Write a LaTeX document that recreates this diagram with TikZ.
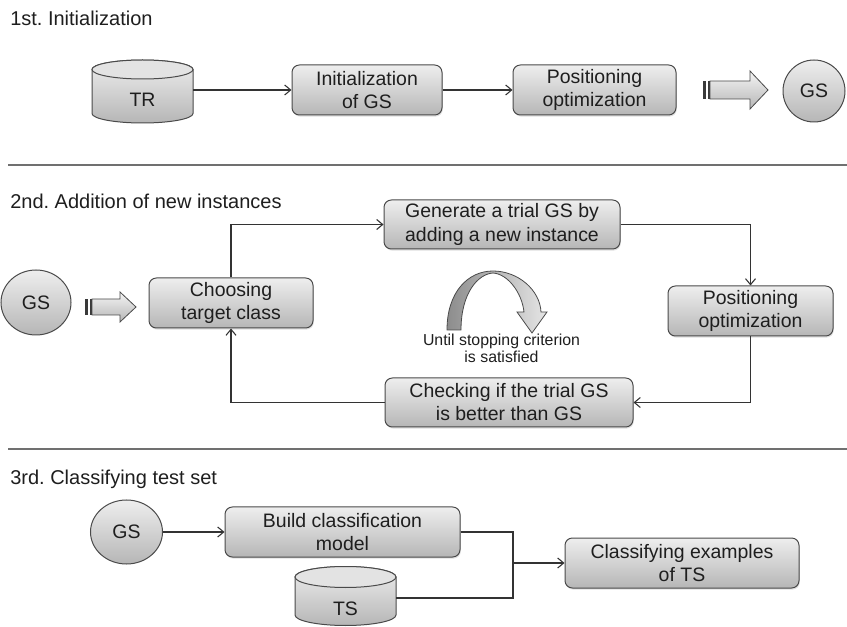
\documentclass[tikz,border=0pt]{standalone}
\usepackage{fontspec}
\setmainfont{Liberation Sans}
\usetikzlibrary{arrows.meta,shapes.geometric,shadows}
\frenchspacing
\definecolor{boxtop}{HTML}{EEEEEE}
\definecolor{boxbot}{HTML}{B6B6B6}
\definecolor{edgec}{HTML}{4A4A4A}
\definecolor{txtc}{HTML}{1E1E1E}
\definecolor{wirec}{HTML}{333333}
\definecolor{sepc}{HTML}{707070}
\definecolor{stripec}{HTML}{3A3A3A}
\newcommand\pxu{0.75pt}
\newcommand\mainsize{\fontsize{14.6}{17.3}\selectfont}
\newcommand\titlesize{\fontsize{15}{18}\selectfont}
\newcommand\smallsize{\fontsize{11.9}{13}\selectfont}
\tikzset{
  shadethree/.style={top color=boxtop, bottom color=boxbot},
  box/.style={draw=edgec, line width=0.75pt, rounded corners=5.5pt, shadethree,
    drop shadow={shadow xshift=0.6pt, shadow yshift=-1.2pt, opacity=0.25},
    align=center, font=\mainsize, text=txtc, inner sep=0pt},
  gsnode/.style={ellipse, draw=edgec, line width=0.75pt, shadethree,
    font=\mainsize, text=txtc, inner sep=0pt},
  cylbody/.style={draw=edgec, line width=0.75pt, top color=boxtop, bottom color=boxbot},
  cyltop/.style={draw=edgec, line width=0.75pt, fill=boxtop!80!boxbot},
  cylanchor/.style={inner sep=0pt, draw=none},
  label/.style={font=\mainsize, text=txtc, inner sep=0pt},
  title/.style={font=\titlesize, text=txtc, inner sep=0pt, anchor=base west},
  smalltext/.style={font=\smallsize, text=txtc, inner sep=0pt, align=center},
  wire/.style={draw=wirec, line width=0.8pt},
  arrowwire/.style={wire, -{Straight Barb[length=4.5pt,width=7.5pt]}},
  sepline/.style={draw=sepc, line width=1pt},
  blockarrow/.style={draw=edgec, line width=0.6pt, top color=boxtop!60!white, bottom color=boxbot},
  stripe/.style={draw=none, fill=stripec},
  curvedarrow/.style={draw=edgec, line width=0.6pt, left color=black!45, right color=black!10}
}
\begin{document}
\begin{tikzpicture}[x=0.75pt,y=-0.75pt]
\useasboundingbox (0,0) rectangle (847,627);

% ---------- Section 1 ----------
\node[title] (t1) at (10,26) {1st. Initialization};

% TR cylinder
\draw[cylbody] (92,69.5) -- (92,113.5)
  arc[start angle=180,end angle=360,x radius=37.875pt,y radius=7.125pt]
  -- (193,69.5)
  arc[start angle=0,end angle=180,x radius=37.875pt,y radius=7.125pt] -- cycle;
\draw[cyltop] (142.5,69.5) ellipse [x radius=37.875pt, y radius=7.125pt];
\node[cylanchor, minimum width=101*\pxu, minimum height=58*\pxu] (TR) at (142.5,90) {};
\node[label] (TRtext) at (142.5,100) {TR};

\node[box, minimum width=150*\pxu, minimum height=50*\pxu] (init) at (367,90) {Initialization\\of GS};
\node[box, minimum width=163*\pxu, minimum height=50*\pxu] (posA) at (594.5,90) {Positioning\\optimization};

% striped block arrow 1
\fill[stripe] (703,81.4) rectangle (706.2,98.6);
\fill[stripe] (707.6,81.4) rectangle (710,98.6);
\draw[blockarrow] (710,81) -- (750,81) -- (750,71) -- (768,90) -- (750,109) -- (750,99) -- (710,99) -- cycle;

\node[gsnode, minimum width=62*\pxu, minimum height=62*\pxu] (gsA) at (814,91) {GS};

\draw[arrowwire] (TR.east) -- (init.west);
\draw[arrowwire] (init.east) -- (posA.west);

\coordinate (sAl) at (8,165);
\coordinate (sAr) at (847,165);
\draw[sepline] (sAl) -- (sAr);

% ---------- Section 2 ----------
\node[title] (t2) at (10,209) {2nd. Addition of new instances};

\node[gsnode, minimum width=70*\pxu, minimum height=65*\pxu] (gsB) at (36,302.5) {GS};

% striped block arrow 2
\fill[stripe] (85,299.4) rectangle (88.2,314.6);
\fill[stripe] (89.6,299.4) rectangle (92,314.6);
\draw[blockarrow] (92,299) -- (120,299) -- (120,292) -- (136,307) -- (120,322) -- (120,315) -- (92,315) -- cycle;

\node[box, minimum width=164*\pxu, minimum height=50*\pxu] (choose) at (231,303) {Choosing\\target class};
\node[box, minimum width=236*\pxu, minimum height=49*\pxu] (gen) at (502,224.5) {Generate a trial GS by\\adding a new instance};
\node[box, minimum width=165*\pxu, minimum height=50*\pxu] (posB) at (750.5,311) {Positioning\\optimization};
\node[box, minimum width=248*\pxu, minimum height=49*\pxu] (check) at (509,402.5) {Checking if the trial GS\\is better than GS};

\draw[arrowwire] (choose.north) |- (gen.west);
\draw[arrowwire] (gen.east) -| (posB.north);
\draw[arrowwire] (posB.south) |- (check.east);
\draw[arrowwire] (check.west) -| (choose.south);

% curved loop arrow
\draw[curvedarrow] (447,330) .. controls (447,292) and (468,271) .. (493,271)
  .. controls (518,271) and (540,290) .. (541,312)
  -- (547,312) -- (532,333) -- (517,312) -- (524,312)
  .. controls (522,293) and (508,274) .. (493,273)
  .. controls (478,274) and (461,293) .. (461,330) -- cycle;

\node[smalltext] (until) at (501.5,348.5) {Until stopping criterion\\is satisfied};

\coordinate (sBl) at (8,449);
\coordinate (sBr) at (847,449);
\draw[sepline] (sBl) -- (sBr);

% ---------- Section 3 ----------
\node[title] (t3) at (10,484) {3rd. Classifying test set};

\node[gsnode, minimum width=72*\pxu, minimum height=64*\pxu] (gsC) at (126.5,532) {GS};
\node[box, minimum width=235*\pxu, minimum height=50*\pxu] (build) at (342.5,532) {Build classification\\model};

% TS cylinder
\draw[cylbody] (295,577) -- (295,615)
  arc[start angle=180,end angle=360,x radius=37.875pt,y radius=7.875pt]
  -- (396,577)
  arc[start angle=0,end angle=180,x radius=37.875pt,y radius=7.875pt] -- cycle;
\draw[cyltop] (345.5,577) ellipse [x radius=37.875pt, y radius=7.875pt];
\node[cylanchor, minimum width=101*\pxu, minimum height=56*\pxu] (TS) at (345.5,598) {};
\node[label] (TStext) at (345.5,609) {TS};

\node[box, minimum width=234*\pxu, minimum height=50*\pxu] (classify) at (682,563) {Classifying examples\\of TS};

\draw[arrowwire] (gsC.east) -- (build.west);
\coordinate (join) at (513,563);
\draw[wire] (build.east) -| (join);
\draw[wire] (TS.east) -| (join);
\draw[arrowwire] (join) -- (classify.west);
\end{tikzpicture}
\end{document}
